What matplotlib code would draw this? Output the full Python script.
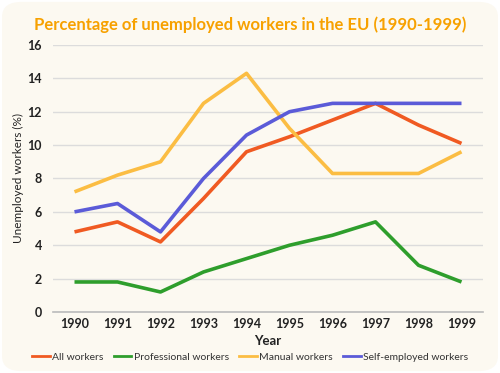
import matplotlib.pyplot as plt
from matplotlib.patches import FancyBboxPatch
from matplotlib.lines import Line2D

years = ["1990", "1991", "1992", "1993", "1994", "1995", "1996", "1997", "1998", "1999"]
all_workers = [4.8, 5.4, 4.2, 6.8, 9.6, 10.5, 11.5, 12.5, 11.2, 10.1]
professional = [1.8, 1.8, 1.2, 2.4, 3.2, 4.0, 4.6, 5.4, 2.8, 1.8]
manual = [7.2, 8.2, 9.0, 12.5, 14.3, 11.0, 8.3, 8.3, 8.3, 9.6]
self_employed = [6.0, 6.5, 4.8, 8.0, 10.6, 12.0, 12.5, 12.5, 12.5, 12.5]

series = [
    ("All workers", all_workers, "#f05a22"),
    ("Professional workers", professional, "#2e9e2c"),
    ("Manual workers", manual, "#fbbd43"),
    ("Self-employed workers", self_employed, "#5b5bd8"),
]

plt.rcParams["font.family"] = ["Lato", "DejaVu Sans"]

fig = plt.figure(figsize=(5, 3.73), dpi=100, facecolor="white")
bg = FancyBboxPatch((0.004, 0.005), 0.992, 0.99, boxstyle="round,pad=0,rounding_size=0.04",
                    transform=fig.transFigure, facecolor="#fcf9f1", edgecolor="none", zorder=-10)
fig.patches.append(bg)

ax = fig.add_axes([0.106, 0.1635, 0.86, 0.716])
ax.set_facecolor("none")

x = list(range(len(years)))
for label, values, color in series:
    ax.plot(x, values, color=color, linewidth=2.6, label=label, solid_capstyle="butt")

ax.set_xlim(-0.5, len(years) - 0.5)
ax.set_ylim(0, 16)
ax.set_yticks(range(0, 17, 2))
ax.set_xticks(x)
ax.set_xticklabels(years)
ax.grid(axis="y", color="#dcdcdc", linewidth=1)
ax.set_axisbelow(True)
for side in ["top", "right", "left"]:
    ax.spines[side].set_visible(False)
ax.spines["bottom"].set_color("#bbbbbb")
ax.spines["bottom"].set_linewidth(1.2)
ax.tick_params(axis="x", length=0, labelsize=9, labelcolor="#222222", pad=4)
ax.tick_params(axis="y", length=0, labelsize=9, labelcolor="#222222", pad=8)
for t in ax.get_xticklabels() + ax.get_yticklabels():
    t.set_fontweight("bold")

ax.set_xlabel("Year", fontsize=9.5, fontweight="bold", color="#222222", labelpad=4)
ax.set_ylabel("Unemployed workers (%)", fontsize=8.5, color="#222222", labelpad=2)

fig.text(0.5, 0.935, "Percentage of unemployed workers in the EU (1990-1999)",
         ha="center", va="center", fontsize=12, fontweight="bold", color="#f7a100")

handles = [Line2D([0], [0], color=c, linewidth=2) for _, _, c in series]
fig.legend(handles, [s[0] for s in series], loc="center", bbox_to_anchor=(0.5, 0.043),
           ncol=4, frameon=False, fontsize=7.5, handlelength=1.7, handletextpad=0.2,
           columnspacing=1.0, labelcolor="#333333")

fig.savefig("out.png", dpi=100, facecolor=fig.get_facecolor())
